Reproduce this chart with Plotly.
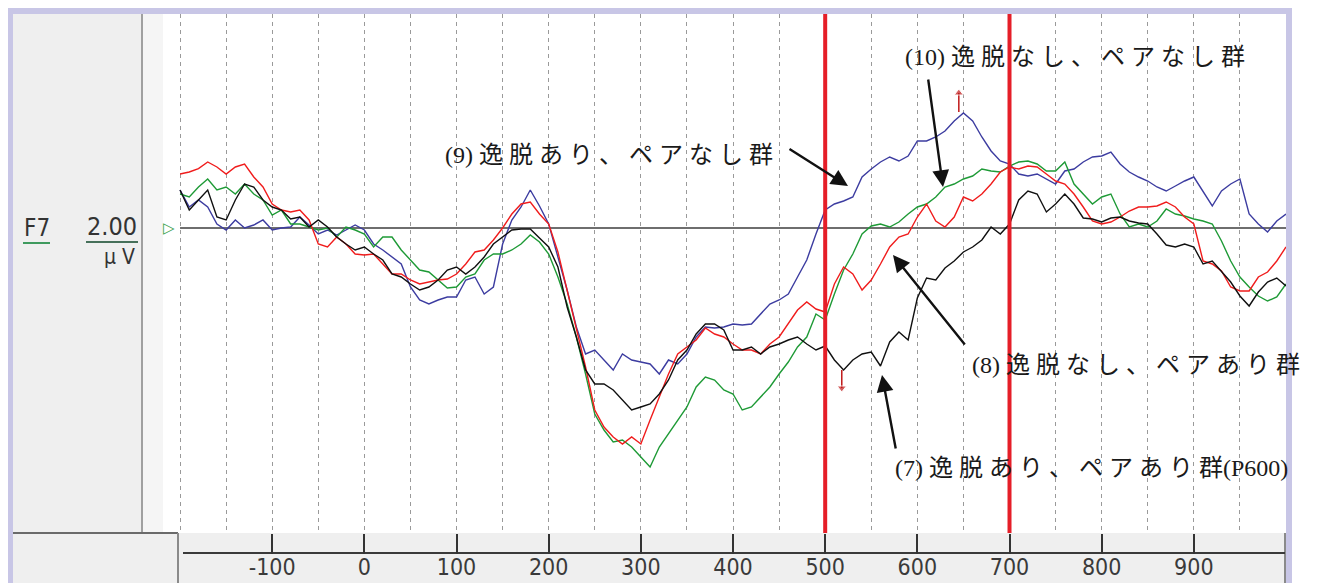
import plotly.graph_objects as go

# ---------------- data ----------------
times = list(range(-200, 1001, 10))  # ms

red = [2.7, 2.8, 2.97, 3.3, 3.05, 2.7, 3.05, 3.2, 2.55, 2.05,
       1.2, 0.9, 0.8, 0.9, 0.4, -0.8, -0.95, -0.45, -0.8, -1.3,
       -1.35, -1.3, -1.8, -2.3, -2.3, -2.6, -2.8, -2.7, -2.6, -2.55,
       -2.3, -1.8, -1.2, -1.1, -0.6, 0.0, 0.7, 1.2, 1.3, 0.7,
       0.2, -1.2, -3.1, -4.95, -6.95, -9.1, -9.95, -10.45, -10.8, -10.45,
       -10.8, -9.6, -8.45, -7.3, -6.3, -5.95, -5.6, -5.0, -5.3, -5.45,
       -5.8, -6.1, -6.1, -6.3, -5.8, -5.45, -4.8, -4.1, -3.7, -4.05,
       -4.2, -2.8, -1.95, -2.3, -3.1, -2.6, -1.8, -0.95, -0.45, -0.3,
       0.55, 1.2, 0.35, 0.05, 0.55, 1.55, 1.35, 1.7, 2.2, 2.8,
       3.05, 2.95, 3.1, 3.05, 2.7, 2.35, 2.2, 1.7, 1.05, 0.35,
       0.2, 0.3, 0.55, 0.85, 1.05, 1.05, 1.1, 1.3, 1.05, 0.55,
       0.2, -1.65, -1.8, -2.15, -2.95, -3.15, -3.15, -2.45, -2.2, -1.65,
       -0.95]

blue = [1.9, 1.05, 1.4, 1.05, 0.2, -0.1, 0.4, 0.0, 0.15, 0.4,
        -0.1, 0.0, 0.05, 0.55, 0.15, -0.3, -0.1, -0.35, -0.1, 0.15,
        -0.1, -0.8, -1.1, -1.45, -1.8, -2.95, -3.6, -3.8, -3.6, -3.45,
        -3.45, -2.6, -2.45, -3.3, -2.95, -0.8, 0.4, 1.05, 1.9, 1.1,
        0.2, -1.45, -3.1, -4.95, -6.3, -6.1, -6.6, -7.1, -6.3, -6.6,
        -6.7, -6.8, -7.3, -6.6, -6.8, -6.3, -5.45, -4.95, -5.0, -4.95,
        -4.8, -4.85, -4.8, -4.3, -3.8, -3.6, -3.3, -2.45, -1.6, -0.3,
        0.9, 1.2, 1.35, 1.55, 2.55, 2.95, 3.3, 3.55, 3.35, 3.6,
        4.35, 4.35, 4.55, 4.85, 5.35, 5.75, 5.35, 4.55, 3.85, 3.35,
        3.2, 2.7, 2.6, 2.7, 2.45, 2.2, 2.85, 2.95, 3.3, 3.55,
        3.6, 3.8, 3.2, 2.8, 2.55, 2.35, 2.05, 1.85, 2.1, 2.35,
        2.55, 1.85, 1.1, 1.85, 2.2, 2.45, 0.7, 0.2, -0.2, 0.35,
        0.7]

green = [1.7, 1.55, 2.05, 2.45, 1.9, 2.05, 1.7, 2.2, 1.7, 1.4,
         0.65, 0.9, 0.2, 0.2, 0.05, -0.1, 0.0, -0.45, 0.05, -0.1,
         -0.3, -0.95, -0.45, -0.45, -1.1, -1.6, -2.1, -2.2, -2.6, -3.0,
         -2.95, -2.45, -2.3, -1.6, -1.3, -1.3, -1.1, -0.8, -0.35, -0.7,
         -1.3, -2.45, -3.8, -5.45, -7.3, -9.3, -10.1, -10.7, -10.6, -10.95,
         -11.45, -11.95, -10.95, -10.3, -9.6, -8.95, -7.95, -7.45, -7.6, -8.1,
         -8.3, -9.1, -8.95, -8.45, -7.95, -7.3, -6.7, -5.95, -5.45, -4.3,
         -4.6, -3.3, -2.1, -1.3, -0.3, 0.1, 0.2, 0.05, 0.3, 0.7,
         1.05, 1.2, 1.55, 2.05, 2.2, 2.45, 2.6, 2.95, 2.85, 2.8,
         3.1, 3.3, 3.35, 3.2, 2.85, 2.85, 3.3, 2.2, 1.7, 1.2,
         1.55, 1.7, 0.7, 0.05, 0.2, 0.05, 0.35, 0.95, 0.7, 0.6,
         0.45, 0.35, 0.2, -0.65, -1.65, -2.45, -2.95, -3.4, -3.65, -3.45,
         -2.8]

black = [1.9, 0.9, 1.4, 1.9, 0.55, 0.4, 1.4, 2.2, 2.05, 1.4,
         1.05, 0.9, 0.45, 0.55, 0.05, 0.4, 0.05, -0.45, -0.8, -1.1,
         -0.95, -1.3, -1.6, -2.3, -2.45, -2.8, -3.1, -2.95, -2.6, -2.1,
         -1.95, -2.3, -1.95, -1.45, -0.8, -0.45, -0.1, -0.05, -0.05, -0.5,
         -0.95, -1.95, -3.95, -5.45, -7.1, -7.8, -7.8, -8.1, -8.6, -9.1,
         -8.95, -8.8, -8.3, -7.6, -6.6, -6.1, -5.3, -4.8, -4.8, -5.1,
         -6.1, -6.1, -5.95, -6.3, -5.95, -5.8, -5.6, -5.45, -5.8, -6.1,
         -5.9, -6.6, -7.1, -6.6, -6.3, -6.2, -6.9, -5.7, -5.2, -5.6,
         -3.5, -2.5, -2.6, -2.0, -1.65, -1.2, -0.95, -0.6, 0.05, -0.3,
         0.2, 1.4, 1.85, 1.7, 0.8, 1.2, 1.7, 1.2, 0.5, 0.45,
         0.3, 0.5, 0.55, 0.35, 0.25, 0.2, -0.3, -0.85, -0.95, -0.8,
         -0.95, -1.8, -1.65, -2.15, -2.7, -3.4, -3.9, -3.2, -2.7, -2.5,
         -2.9]

# small peak markers (time, trace value, marker value, symbol)
mark_times = [518, 645]
mark_from = [-7.1, 5.8]
mark_to = [-8.0, 6.75]
mark_symbols = ["triangle-down", "triangle-up"]

tick_vals = [-100, 0, 100, 200, 300, 400, 500, 600, 700, 800, 900]
tick_text = ["-100", "0", "100", "200", "300", "400", "500", "600", "700", "800", "900"]
window_lines = [500, 700]

channel_name = "F7"
scale_value = "2.00"
scale_unit = "μ V"

labels = [
    "(9) 逸 脱 あ り 、 ペ ア な し 群",
    "(10) 逸 脱 な し 、 ペ ア な し 群",
    "(8) 逸 脱 な し 、 ペ ア あ り 群",
    "(7) 逸 脱 あ り 、 ペ ア あ り 群(P600)",
]

# ---------------- layout geometry (reference pixels) ----------------
FIG_W, FIG_H = 1318, 583
L, R, T, B = 163, 1286, 14, 533
W, H = R - L, B - T


def fx(p):
    return (p - L) / W


def fy(p):
    return (B - p) / H


COL_RED = "#f01c1c"
COL_BLUE = "#3c3ca0"
COL_GREEN = "#1e9a36"
COL_BLACK = "#101010"

fig = go.Figure()

for name, vals, col in [("blue", blue, COL_BLUE), ("green", green, COL_GREEN),
                        ("red", red, COL_RED), ("black", black, COL_BLACK)]:
    fig.add_trace(go.Scatter(x=times, y=vals, mode="lines", name=name,
                             line=dict(color=col, width=1.4), hoverinfo="skip"))

for t, a, b_, s in zip(mark_times, mark_from, mark_to, mark_symbols):
    fig.add_trace(go.Scatter(x=[t, t], y=[a, b_], mode="lines+markers",
                             line=dict(color="#c01818", width=1.5),
                             marker=dict(symbol=["circle", s], size=[0, 8], color="#c01818"),
                             hoverinfo="skip"))

shapes = []
LAV = "#c8c6e6"
PANEL = "#efefef"
# lavender frame
shapes.append(dict(type="rect", xref="paper", yref="paper", x0=fx(8), x1=fx(1292), y0=fy(8), y1=fy(14),
                   fillcolor=LAV, line_width=0, layer="below"))
shapes.append(dict(type="rect", xref="paper", yref="paper", x0=fx(8), x1=fx(13), y0=fy(8), y1=fy(583),
                   fillcolor=LAV, line_width=0, layer="below"))
shapes.append(dict(type="rect", xref="paper", yref="paper", x0=fx(1286), x1=fx(1292), y0=fy(8), y1=fy(583),
                   fillcolor=LAV, line_width=0, layer="below"))
# left panel
shapes.append(dict(type="rect", xref="paper", yref="paper", x0=fx(13), x1=fx(141), y0=fy(14), y1=fy(533),
                   fillcolor=PANEL, line_width=0, layer="below"))
shapes.append(dict(type="rect", xref="paper", yref="paper", x0=fx(143), x1=fx(163), y0=fy(14), y1=fy(533),
                   fillcolor="#f5f5f5", line_width=0, layer="below"))
shapes.append(dict(type="line", xref="paper", yref="paper", x0=fx(142), x1=fx(142), y0=fy(14), y1=fy(533),
                   line=dict(color="#a0a0a0", width=2), layer="below"))
# bottom panels
shapes.append(dict(type="rect", xref="paper", yref="paper", x0=fx(13), x1=fx(1286), y0=fy(533), y1=fy(583),
                   fillcolor=PANEL, line_width=0, layer="below"))
shapes.append(dict(type="line", xref="paper", yref="paper", x0=fx(13), x1=fx(178), y0=fy(533), y1=fy(533),
                   line=dict(color="#6a6a6a", width=2), layer="below"))
shapes.append(dict(type="line", xref="paper", yref="paper", x0=fx(178), x1=fx(178), y0=fy(533), y1=fy(583),
                   line=dict(color="#8a8a8a", width=2), layer="below"))
shapes.append(dict(type="line", xref="paper", yref="paper", x0=fx(1285), x1=fx(1285), y0=fy(533), y1=fy(583),
                   line=dict(color="#8a8a8a", width=2), layer="below"))
shapes.append(dict(type="line", xref="paper", yref="paper", x0=fx(183), x1=fx(1285), y0=fy(553), y1=fy(553),
                   line=dict(color="#3a3a3a", width=2), layer="below"))
# zero baseline
shapes.append(dict(type="line", xref="x", yref="y", x0=-200, x1=1000, y0=0, y1=0,
                   line=dict(color="#6e6e6e", width=2), layer="below"))
# F7 / 2.00 underlines
shapes.append(dict(type="line", xref="paper", yref="paper", x0=fx(23), x1=fx(50), y0=fy(243), y1=fy(243),
                   line=dict(color="#3f9a5e", width=2), layer="below"))
shapes.append(dict(type="line", xref="paper", yref="paper", x0=fx(86), x1=fx(138), y0=fy(242), y1=fy(242),
                   line=dict(color="#46705a", width=2), layer="below"))
# analysis window (red verticals)
for v in window_lines:
    shapes.append(dict(type="line", xref="x", yref="paper", x0=v, x1=v, y0=0, y1=1,
                       line=dict(color="#e51e28", width=4), layer="above"))

ann = []
MONO = "DejaVu Sans Condensed, Liberation Sans Narrow, sans-serif"
ann.append(dict(xref="paper", yref="paper", x=fx(37), y=fy(228), text=channel_name, showarrow=False,
                font=dict(family=MONO, size=24, color="#333333"), xanchor="center", yanchor="middle"))
ann.append(dict(xref="paper", yref="paper", x=fx(112), y=fy(227), text=scale_value, showarrow=False,
                font=dict(family=MONO, size=25, color="#333333"), xanchor="center", yanchor="middle"))
ann.append(dict(xref="paper", yref="paper", x=fx(119), y=fy(257), text=scale_unit, showarrow=False,
                font=dict(family=MONO, size=21, color="#333333"), xanchor="center", yanchor="middle"))
ann.append(dict(xref="paper", yref="paper", x=fx(169), y=fy(228), text="▷", showarrow=False,
                font=dict(family="DejaVu Sans", size=15, color="#3aa04a"), xanchor="center", yanchor="middle"))

TXT = dict(family="Liberation Serif, Noto Sans CJK JP, serif", size=24, color="#1a1a1a")
text_pos = [(443, 155), (903, 57), (970, 365), (893, 468)]
for lab, (px, py) in zip(labels, text_pos):
    ann.append(dict(xref="paper", yref="paper", x=fx(px), y=fy(py), text=lab, showarrow=False,
                    font=TXT, xanchor="left", yanchor="middle"))

arrows = [((848, 186), (788, 148)), ((943, 187), (928, 78)),
          ((893, 255), (966, 346)), ((882, 375), (896, 450))]
for (tx, ty), (sx, sy) in arrows:
    ann.append(dict(xref="paper", yref="paper", x=fx(tx), y=fy(ty), text="", showarrow=True,
                    ax=sx - tx, ay=sy - ty, axref="pixel", ayref="pixel",
                    arrowhead=2, arrowsize=1.4, arrowwidth=2.4, arrowcolor="#111111", standoff=0))

fig.update_layout(
    width=FIG_W, height=FIG_H,
    margin=dict(l=L, r=FIG_W - R, t=T, b=FIG_H - B, pad=0, autoexpand=False),
    paper_bgcolor="white", plot_bgcolor="white",
    showlegend=False,
    shapes=shapes, annotations=ann,
    xaxis=dict(range=[-218.5, 1000], tickvals=tick_vals, ticktext=tick_text, automargin=False,
               ticks="outside", ticklen=20, tickwidth=2, tickcolor="#333333",
               showgrid=True, gridcolor="#9a9a9a", gridwidth=1.2, griddash="4px,4px",
               showline=False, zeroline=False, ticklabelstandoff=-7,
               tickfont=dict(family=MONO, size=23, color="#3a3a3a"),
               minor=dict(tick0=-200, dtick=50, showgrid=True, gridcolor="#9a9a9a",
                          gridwidth=1.2, griddash="4px,4px", ticks="")),
    yaxis=dict(range=[-15.25, 10.7], showgrid=False, zeroline=False, automargin=False,
               showticklabels=False, ticks="", showline=False),
)

# remove the browser's default 8px page margin so the figure sits at (0, 0)
fig.write_html("out.html", config={"displayModeBar": False},
               post_script="document.body.style.margin='0';")
